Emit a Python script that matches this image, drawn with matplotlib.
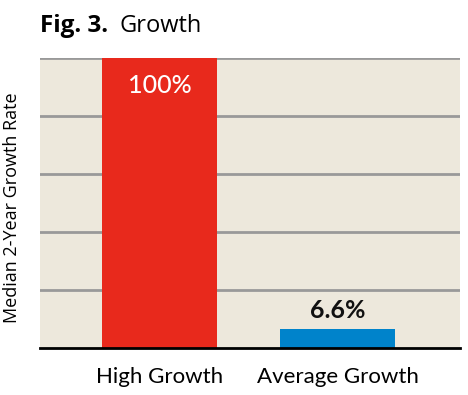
import matplotlib
matplotlib.use("Agg")
import matplotlib.pyplot as plt

categories = ["High Growth", "Average Growth"]
values = [100, 6.6]
labels = ["100%", "6.6%"]
colors = ["#E8291C", "#0083CB"]

fig = plt.figure(figsize=(4.68, 3.95), dpi=100)
ax = fig.add_axes([40/468, 1 - 348/395, 420/468, 290/395])
ax.set_facecolor("#EDE8DC")

x = list(range(len(categories)))
ax.bar(x, values, width=0.65, color=colors, zorder=3)
ax.set_xlim(-0.672, 1.688)
ax.set_ylim(0, 100)
ax.set_yticks([20, 40, 60, 80, 100])
ax.yaxis.grid(True, color="#999999", linewidth=2, zorder=1)
ax.tick_params(axis="y", length=0, labelleft=False)
ax.tick_params(axis="x", length=0, pad=14)
ax.set_xticks(x)
ax.set_xticklabels(categories, fontsize=16, family="Lato")
for s in ["left", "right", "top"]:
    ax.spines[s].set_visible(False)
ax.spines["bottom"].set_color("black")
ax.spines["bottom"].set_linewidth(2)
ax.spines["bottom"].set_zorder(4)

ax.text(x[0], values[0] - 9.5, labels[0], ha="center", va="center", color="white",
        fontsize=18, family="Lato", fontweight="medium", zorder=5)
ax.text(x[1], values[1] + 6.3, labels[1], ha="center", va="center", color="#111111",
        fontsize=18, family="Lato", fontweight="bold", zorder=5)

fig.text(12/468, 1 - 208/395, "Median 2-Year Growth Rate", rotation=90,
         fontsize=13, family="Open Sans", ha="center", va="center")

fig.text(40/468, 1 - 26/395, "Fig. 3.", fontsize=17.5, fontweight="bold",
         family="Open Sans", ha="left", va="center")
fig.text(120/468, 1 - 26/395, "Growth", fontsize=17,
         family="Open Sans", ha="left", va="center")

fig.savefig("out.png", dpi=100)
